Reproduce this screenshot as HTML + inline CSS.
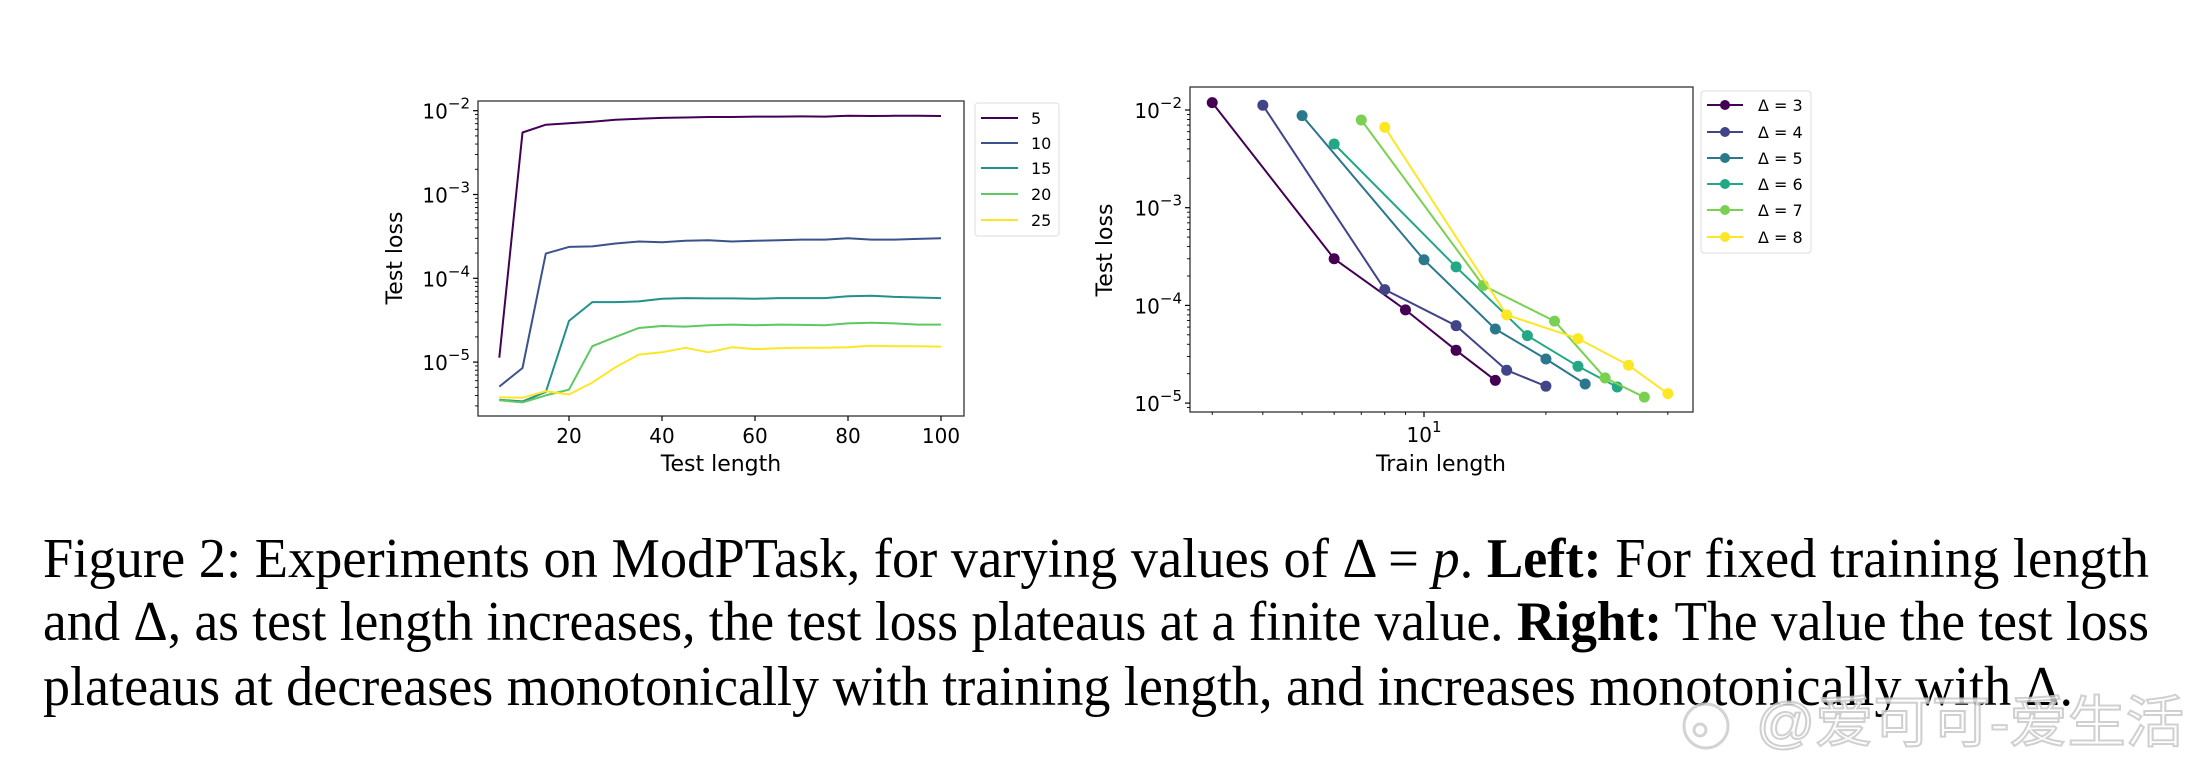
<!DOCTYPE html>
<html><head><meta charset="utf-8"><style>
html,body{margin:0;padding:0;background:#fff;}
svg{display:block;}
.ax{font-family:"DejaVu Sans","Liberation Sans",sans-serif;fill:#000;}
.cap{font-family:"Liberation Serif","Times New Roman",serif;font-size:56px;fill:#000;}
</style></head><body>
<svg id="fig" width="2204" height="772" viewBox="0 0 2204 772" xmlns="http://www.w3.org/2000/svg">
<rect width="2204" height="772" fill="#fff"/>
<g id="left"></g>
<g id="right"></g>
<g>
<text class="cap" x="43" y="577" textLength="2106" lengthAdjust="spacingAndGlyphs">Figure 2: Experiments on ModPTask, for varying values of Δ = <tspan font-style="italic">p</tspan>. <tspan font-weight="bold">Left:</tspan> For fixed training length</text>
<text class="cap" x="43" y="640" textLength="2106" lengthAdjust="spacingAndGlyphs">and Δ, as test length increases, the test loss plateaus at a finite value. <tspan font-weight="bold">Right:</tspan> The value the test loss</text>
<text class="cap" x="43" y="705" textLength="2030" lengthAdjust="spacingAndGlyphs">plateaus at decreases monotonically with training length, and increases monotonically with Δ.</text>
</g>
<g opacity="0.85">
<circle cx="1706" cy="726" r="22" fill="#fff" stroke="#ccc" stroke-width="3"/>
<circle cx="1700" cy="730" r="6" fill="none" stroke="#ccc" stroke-width="3"/>
<text x="1756" y="742" font-family="'Liberation Sans','Noto Sans CJK SC',sans-serif" font-size="56" fill="#fff" stroke="#c8c8c8" stroke-width="2" textLength="428" lengthAdjust="spacingAndGlyphs">@爱可可-爱生活</text>
</g>
</svg>
<script>
// ---- Left chart data ----
const leftX = [5,10,15,20,25,30,35,40,45,50,55,60,65,70,75,80,85,90,95,100];
const leftLabels = ["5","10","15","20","25"];
const leftS5 = [1.13e-5,5.5e-3,6.8e-3,7.1e-3,7.4e-3,7.8e-3,8.0e-3,8.2e-3,8.3e-3,8.4e-3,8.4e-3,8.5e-3,8.5e-3,8.55e-3,8.5e-3,8.7e-3,8.65e-3,8.7e-3,8.7e-3,8.65e-3];
const leftS10 = [5.1e-6,8.5e-6,1.97e-4,2.37e-4,2.4e-4,2.6e-4,2.75e-4,2.7e-4,2.8e-4,2.85e-4,2.75e-4,2.8e-4,2.85e-4,2.9e-4,2.9e-4,3.0e-4,2.9e-4,2.9e-4,2.95e-4,3.0e-4];
const leftS15 = [3.55e-6,3.4e-6,4.4e-6,3.1e-5,5.2e-5,5.2e-5,5.3e-5,5.7e-5,5.8e-5,5.75e-5,5.75e-5,5.7e-5,5.8e-5,5.8e-5,5.8e-5,6.1e-5,6.2e-5,6.0e-5,5.9e-5,5.8e-5];
const leftS20 = [3.5e-6,3.3e-6,4.0e-6,4.7e-6,1.55e-5,2.0e-5,2.55e-5,2.7e-5,2.65e-5,2.75e-5,2.8e-5,2.75e-5,2.8e-5,2.78e-5,2.75e-5,2.9e-5,2.95e-5,2.9e-5,2.8e-5,2.8e-5];
const leftS25 = [3.8e-6,3.75e-6,4.5e-6,4.1e-6,5.7e-6,8.7e-6,1.23e-5,1.31e-5,1.48e-5,1.31e-5,1.5e-5,1.43e-5,1.46e-5,1.48e-5,1.48e-5,1.5e-5,1.57e-5,1.55e-5,1.55e-5,1.53e-5];
const leftXTicks = [20,40,60,80,100];
const leftYTicks = [-2,-3,-4,-5];
// ---- Right chart data ----
const rightLabels = ["Δ = 3","Δ = 4","Δ = 5","Δ = 6","Δ = 7","Δ = 8"];
const rightX3 = [3,6,9,12,15];
const rightY3 = [1.19e-2,3.0e-4,9.0e-5,3.47e-5,1.71e-5];
const rightX4 = [4,8,12,16,20];
const rightY4 = [1.12e-2,1.45e-4,6.2e-5,2.17e-5,1.49e-5];
const rightX5 = [5,10,15,20,25];
const rightY5 = [8.75e-3,2.93e-4,5.73e-5,2.83e-5,1.57e-5];
const rightX6 = [6,12,18,24,30];
const rightY6 = [4.49e-3,2.48e-4,4.9e-5,2.38e-5,1.46e-5];
const rightX7 = [7,14,21,28,35];
const rightY7 = [7.9e-3,1.6e-4,6.9e-5,1.81e-5,1.15e-5];
const rightX8 = [8,16,24,32,40];
const rightY8 = [6.65e-3,8.0e-5,4.57e-5,2.44e-5,1.25e-5];
const rightYTicks = [-2,-3,-4,-5];

const NS = "http://www.w3.org/2000/svg";
function mk(parent, tag, attrs){ const e=document.createElementNS(NS,tag); for(const k in attrs) e.setAttribute(k,attrs[k]); parent.appendChild(e); return e; }

const L = {x0:478,x1:964,y0:101,y1:416};
const lx = x => 569 + (x-20)*4.65;
const ly = v => 110.7 - (Math.log10(v)+2)*83.8;
const R = {x0:1190,x1:1693,y0:87,y1:412};
const rx = x => 1424 + (Math.log10(x)-1)*405;
const ry = v => 110 - (Math.log10(v)+2)*97.7;

function yLogAxis(g, fy, ticks, xLeft, yTop, yBot){
  ticks.forEach(p=>{
    const y = fy(Math.pow(10,p));
    const t=mk(g,'line',{x1:xLeft-5,x2:xLeft,y1:y,y2:y,stroke:'#000','stroke-width':1.2});
    
    
    const tx=mk(g,'text',{x:xLeft-8,y:y+8,'text-anchor':'end','font-size':20,class:'ax'});
    
    
    tx.innerHTML='10<tspan font-size="15" dy="-10">−'+(-p)+'</tspan>';
  });
  const lo=Math.min(...ticks)-1, hi=Math.max(...ticks);
  for(let p=lo;p<=hi;p++){
    for(let m=2;m<=9;m++){
      const y=fy(m*Math.pow(10,p));
      if(y<yTop||y>yBot) continue;
      const t=mk(g,'line',{x1:xLeft-3,x2:xLeft,y1:y,y2:y,stroke:'#000','stroke-width':0.9});
      
      
    }
  }
}
function frame(g,F){
  const r=mk(g,'rect',{x:F.x0,y:F.y0,width:F.x1-F.x0,height:F.y1-F.y0,fill:'none',stroke:'#333','stroke-width':1.3});
  
  
}
function line(g,xs,ys,fx,fy,color,name){
  const pts=xs.map((x,i)=>fx(x).toFixed(1)+','+fy(ys[i]).toFixed(1)).join(' ');
  const p=mk(g,'polyline',{points:pts,fill:'none',stroke:color,'stroke-width':2,'stroke-linejoin':'round'});
  
  
}

const gl=document.getElementById('left');
const lcol=['#440154','#3b528b','#21918c','#5ec962','#fde725'];
const lseries=[leftS5,leftS10,leftS15,leftS20,leftS25];
lseries.forEach((s,i)=>line(gl,leftX,s,lx,ly,lcol[i],'line-'+leftLabels[i]));
frame(gl,L);
yLogAxis(gl,ly,leftYTicks,L.x0,L.y0,L.y1);
leftXTicks.forEach(v=>{
  const x=lx(v);
  const t=mk(gl,'line',{x1:x,x2:x,y1:L.y1,y2:L.y1+5,stroke:'#000','stroke-width':1.2});
  
  
  const tx=mk(gl,'text',{x:x,y:443,'text-anchor':'middle','font-size':20,class:'ax'});
  
  
  tx.textContent=v;
});
let t1=mk(gl,'text',{x:721,y:471,'text-anchor':'middle','font-size':22,class:'ax'});


t1.textContent='Test length';
let t2=mk(gl,'text',{x:0,y:0,'text-anchor':'middle','font-size':22,class:'ax',transform:'translate(402,258) rotate(-90)'});


t2.textContent='Test loss';
const lg=mk(gl,'g',{});


mk(lg,'rect',{x:975,y:103,width:84,height:133,rx:3,fill:'#fff',stroke:'#ddd','stroke-width':1});
[118,143,168,194,220].forEach((y,i)=>{
  const e=mk(lg,'g',{});
  
  
  mk(e,'line',{x1:981,x2:1018,y1:y,y2:y,stroke:lcol[i],'stroke-width':2});
  const tx=mk(e,'text',{x:1031,y:y+6,'font-size':16,class:'ax'});
  tx.textContent=leftLabels[i];
});

const gr=document.getElementById('right');
const rcol=['#440154','#414487','#2a788e','#22a884','#7ad151','#fde725'];
const rxs=[rightX3,rightX4,rightX5,rightX6,rightX7,rightX8];
const rys=[rightY3,rightY4,rightY5,rightY6,rightY7,rightY8];
rxs.forEach((xs,i)=>{
  line(gr,xs,rys[i],rx,ry,rcol[i],'line-delta-'+(i+3));
  xs.forEach((x,j)=>{
    const c=mk(gr,'circle',{cx:rx(x),cy:ry(rys[i][j]),r:5.5,fill:rcol[i]});
    
    
  });
});
frame(gr,R);
yLogAxis(gr,ry,rightYTicks,R.x0,R.y0,R.y1);
[3,4,5,6,7,8,9,20,30,40].forEach(v=>{
  const x=rx(v);
  const t=mk(gr,'line',{x1:x,x2:x,y1:R.y1,y2:R.y1+3,stroke:'#000','stroke-width':0.9});
  
  
});
{
  const x=rx(10);
  const t=mk(gr,'line',{x1:x,x2:x,y1:R.y1,y2:R.y1+5,stroke:'#000','stroke-width':1.2});
  
  
  const tx=mk(gr,'text',{x:x,y:442,'text-anchor':'middle','font-size':20,class:'ax'});
  
  
  tx.innerHTML='10<tspan font-size="15" dy="-10">1</tspan>';
}
let t3=mk(gr,'text',{x:1441,y:471,'text-anchor':'middle','font-size':22,class:'ax'});


t3.textContent='Train length';
let t4=mk(gr,'text',{x:0,y:0,'text-anchor':'middle','font-size':22,class:'ax',transform:'translate(1112,250) rotate(-90)'});


t4.textContent='Test loss';
const rg=mk(gr,'g',{});


mk(rg,'rect',{x:1701,y:91,width:110,height:162,rx:3,fill:'#fff',stroke:'#ddd','stroke-width':1});
[105,132,158,184,210,237].forEach((y,i)=>{
  const e=mk(rg,'g',{});
  
  
  mk(e,'line',{x1:1707,x2:1743,y1:y,y2:y,stroke:rcol[i],'stroke-width':2});
  mk(e,'circle',{cx:1725,cy:y,r:5,fill:rcol[i]});
  const tx=mk(e,'text',{x:1758,y:y+6,'font-size':16,class:'ax'});
  tx.textContent=rightLabels[i];
});
</script>
</body></html>
